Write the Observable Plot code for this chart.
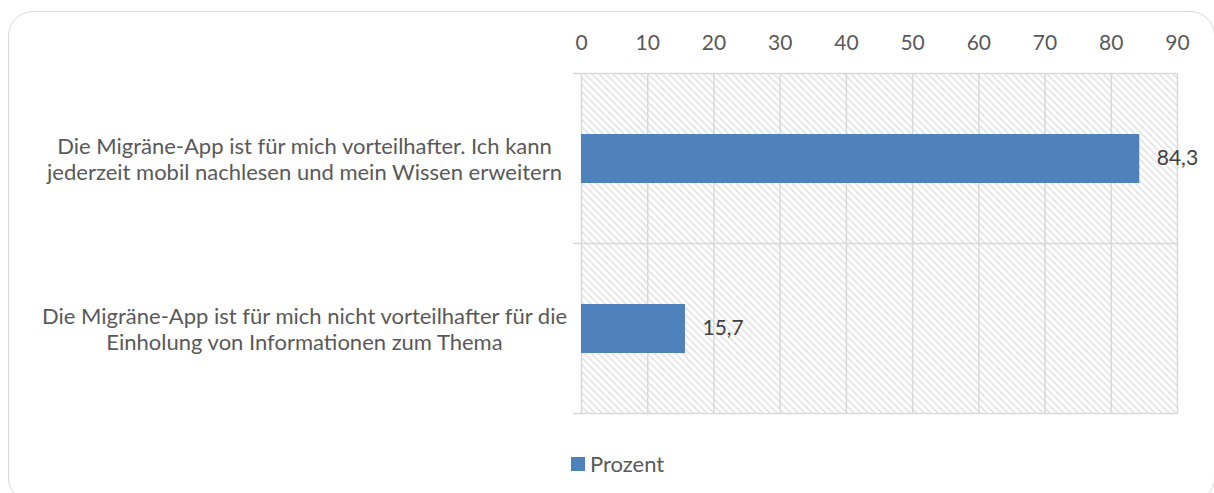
<!DOCTYPE html>
<html>
<head>
<meta charset="utf-8">
<script src="https://cdn.jsdelivr.net/npm/d3@7"></script>
<script src="https://cdn.jsdelivr.net/npm/@observablehq/plot@0.6"></script>
<style>
  html, body { margin: 0; padding: 0; background: #fff; }
  #wrap { position: relative; width: 1214px; height: 493px; overflow: hidden; font-family: Lato, sans-serif; }
  #border { position: absolute; left: 8px; top: 11px; width: 1207px; height: 492px; border: 1.5px solid #d9d9d9; border-radius: 25px; box-sizing: border-box; }
  #chart { position: absolute; left: 0; top: 0; }
  #legend { position: absolute; left: 571px; top: 450px; display: flex; align-items: center; color: #595959; font-size: 22px; }
  #legend .sw { width: 14px; height: 14px; background: #4f81bd; margin-right: 5px; }
</style>
</head>
<body>
<div id="wrap">
  <div id="border"></div>
  <svg width="0" height="0" style="position:absolute">
    <defs>
      <pattern id="hatch" patternUnits="userSpaceOnUse" width="7" height="7">
        <path d="M0,0 L7,7 M-2,5 L2,9 M5,-2 L9,2" stroke="#d2d2d2" stroke-width="1.1"/>
      </pattern>
    </defs>
  </svg>
  <div id="chart"></div>
  <div id="legend"><div class="sw"></div><span id="legendText"></span></div>
</div>
<script>
const categories = [
  "Die Migräne-App ist für mich vorteilhafter. Ich kann\njederzeit mobil nachlesen und mein Wissen erweitern",
  "Die Migräne-App ist für mich nicht vorteilhafter für die\nEinholung von Informationen zum Thema"
];
const values = [84.3, 15.7];
const xTicks = [0, 10, 20, 30, 40, 50, 60, 70, 80, 90];
const seriesName = "Prozent";

const rows = categories.map((c, i) => ({label: c, value: values[i], pos: i}));
const bounds = d3.range(categories.length + 1);
const fs = 22;
const numFs = 21;
const grid = "#d9d9d9";

const chart = Plot.plot({
  width: 1214,
  height: 430,
  marginLeft: 581,
  marginRight: 37,
  marginTop: 73,
  marginBottom: 17,
  style: {fontFamily: "Lato, sans-serif", fontSize: fs + "px", color: "#595959", background: "transparent"},
  x: {domain: [0, 90]},
  y: {domain: [0, categories.length], reverse: true},
  marks: [
    Plot.frame({fill: "url(#hatch)"}),
    Plot.gridX({ticks: xTicks, stroke: grid, strokeOpacity: 1, strokeWidth: 1.5}),
    Plot.gridY({ticks: bounds, stroke: grid, strokeOpacity: 1, strokeWidth: 1.5}),
    Plot.axisY({ticks: bounds, tickSize: 8, tickFormat: () => "", stroke: grid, strokeWidth: 1.5, label: null}),
    Plot.axisX({anchor: "top", ticks: xTicks, tickSize: 0, tickPadding: 24, fontSize: numFs, label: null}),
    Plot.axisY({ticks: rows.map(d => d.pos + 0.5), tickFormat: v => categories[Math.floor(v)], tickSize: 0, tickPadding: 0, textAnchor: "middle", dx: -277, lineHeight: 1.18, fontSize: fs, label: null}),
    Plot.rectX(rows, {x: "value", y1: "pos", y2: d => d.pos + 1, insetTop: 61, insetBottom: 60, fill: "#4f81bd"}),
    Plot.text(rows, {x: "value", y: d => d.pos + 0.5, text: d => d.value.toFixed(1).replace(".", ","), textAnchor: "start", dx: 17, fill: "#404040", fontSize: numFs})
  ]
});
document.getElementById("chart").appendChild(chart);
document.getElementById("legendText").textContent = seriesName;
</script>
</body>
</html>
